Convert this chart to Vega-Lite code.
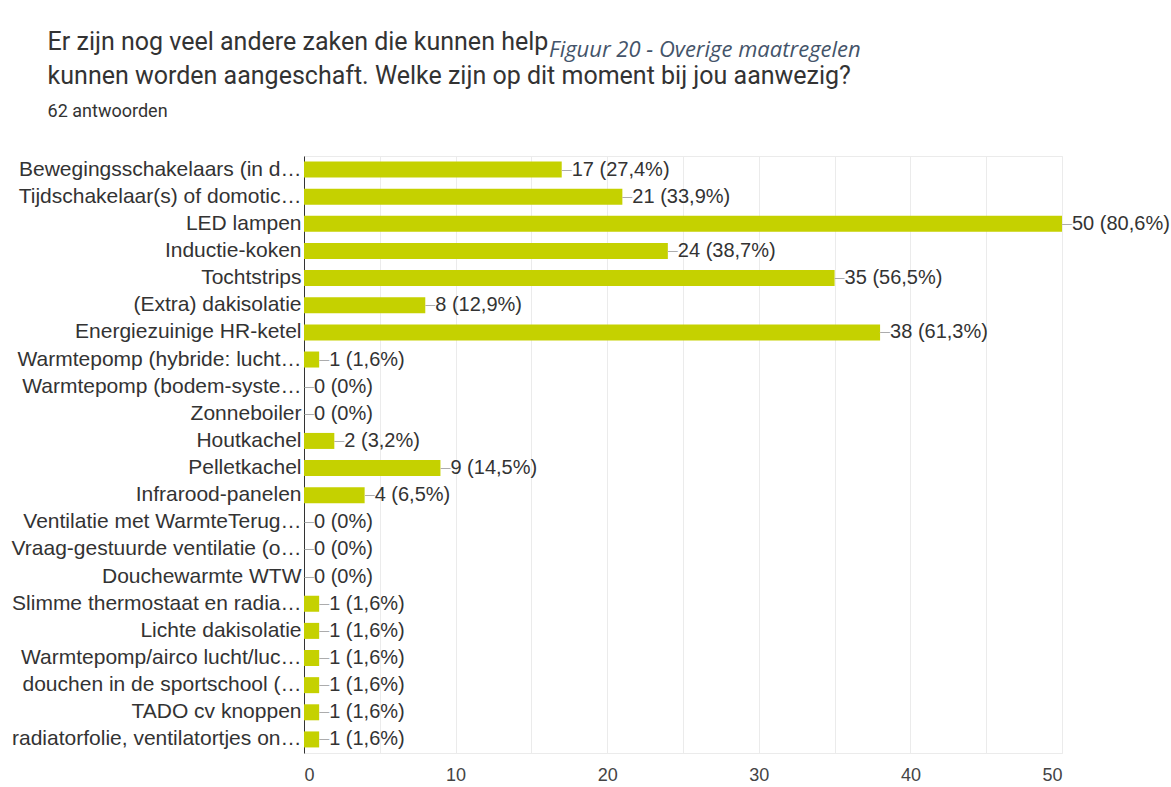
{
  "$schema": "https://vega.github.io/schema/vega-lite/v6.json",
  "background": "white",
  "padding": {"left": 10, "top": 29, "right": 0, "bottom": 0},
  "title": {
    "text": ["Er zijn nog veel andere zaken die kunnen help", "kunnen worden aangeschaft. Welke zijn op dit moment bij jou aanwezig?"],
    "subtitle": "62 antwoorden",
    "anchor": "start",
    "frame": "bounds",
    "dx": 37,
    "font": "Roboto",
    "fontSize": 25,
    "fontWeight": "normal",
    "color": "#333333",
    "lineHeight": 34,
    "subtitleFont": "Roboto",
    "subtitleFontSize": 18,
    "subtitleColor": "#333333",
    "subtitlePadding": 14,
    "offset": -82
  },
  "spacing": 0,
  "vconcat": [
    {
      "width": 758,
      "height": 597,
      "title": {
        "text": "Figuur 20 - Overige maatregelen",
        "anchor": "start",
        "frame": "bounds",
        "dx": 538,
        "offset": 72,
        "baseline": "bottom",
        "font": "Open Sans",
        "fontStyle": "italic",
        "fontSize": 22,
        "fontWeight": "normal",
        "color": "#44546a"
      },
      "data": {
        "values": [
          {"item": "Bewegingsschakelaars (in d…", "count": 17, "label": "17 (27,4%)"},
          {"item": "Tijdschakelaar(s) of domotic…", "count": 21, "label": "21 (33,9%)"},
          {"item": "LED lampen", "count": 50, "label": "50 (80,6%)"},
          {"item": "Inductie-koken", "count": 24, "label": "24 (38,7%)"},
          {"item": "Tochtstrips", "count": 35, "label": "35 (56,5%)"},
          {"item": "(Extra) dakisolatie", "count": 8, "label": "8 (12,9%)"},
          {"item": "Energiezuinige HR-ketel", "count": 38, "label": "38 (61,3%)"},
          {"item": "Warmtepomp (hybride: lucht…", "count": 1, "label": "1 (1,6%)"},
          {"item": "Warmtepomp (bodem-syste…", "count": 0, "label": "0 (0%)"},
          {"item": "Zonneboiler", "count": 0, "label": "0 (0%)"},
          {"item": "Houtkachel", "count": 2, "label": "2 (3,2%)"},
          {"item": "Pelletkachel", "count": 9, "label": "9 (14,5%)"},
          {"item": "Infrarood-panelen", "count": 4, "label": "4 (6,5%)"},
          {"item": "Ventilatie met WarmteTerug…", "count": 0, "label": "0 (0%)"},
          {"item": "Vraag-gestuurde ventilatie (o…", "count": 0, "label": "0 (0%)"},
          {"item": "Douchewarmte WTW", "count": 0, "label": "0 (0%)"},
          {"item": "Slimme thermostaat en radia…", "count": 1, "label": "1 (1,6%)"},
          {"item": "Lichte dakisolatie", "count": 1, "label": "1 (1,6%)"},
          {"item": "Warmtepomp/airco lucht/luc…", "count": 1, "label": "1 (1,6%)"},
          {"item": "douchen in de sportschool (…", "count": 1, "label": "1 (1,6%)"},
          {"item": "TADO cv knoppen", "count": 1, "label": "1 (1,6%)"},
          {"item": "radiatorfolie, ventilatortjes on…", "count": 1, "label": "1 (1,6%)"}
        ]
      },
      "encoding": {
        "y": {
          "field": "item",
          "type": "nominal",
          "sort": null,
          "title": null,
          "scale": {"paddingInner": 0.41, "paddingOuter": 0.205},
          "axis": {
            "labelFont": "Liberation Sans",
            "labelFontSize": 21,
            "labelColor": "#333333",
            "labelLimit": 400,
            "labelPadding": 3,
            "ticks": false,
            "domain": true,
            "domainColor": "#333333",
            "domainWidth": 1,
            "grid": false
          }
        },
        "x": {
          "field": "count",
          "type": "quantitative",
          "title": null,
          "scale": {"domain": [0, 50], "nice": false},
          "axis": {
            "values": [0, 5, 10, 15, 20, 25, 30, 35, 40, 45, 50],
            "labelExpr": "datum.value % 10 == 0 ? datum.label : ''",
            "labelFont": "Liberation Sans",
            "labelFontSize": 18,
            "labelColor": "#444444",
            "labelPadding": 13,
            "ticks": false,
            "domain": false,
            "grid": true,
            "gridColor": "#ebebeb",
            "gridWidth": 1
          }
        }
      },
      "layer": [
        {
          "mark": {"type": "bar", "color": "#c5d100"}
        },
        {
          "mark": {"type": "text", "text": "—", "align": "left", "baseline": "middle", "dx": 0, "font": "Liberation Sans", "fontSize": 10, "color": "#9a9a9a"},
          "encoding": {}
        },
        {
          "mark": {"type": "text", "align": "left", "baseline": "middle", "dx": 10, "font": "Liberation Sans", "fontSize": 20, "color": "#333333"},
          "encoding": {"text": {"field": "label"}}
        }
      ]
    }
  ],
  "config": {
    "view": {"stroke": "#ebebeb"},
    "axis": {"labelOverlap": false}
  }
}
